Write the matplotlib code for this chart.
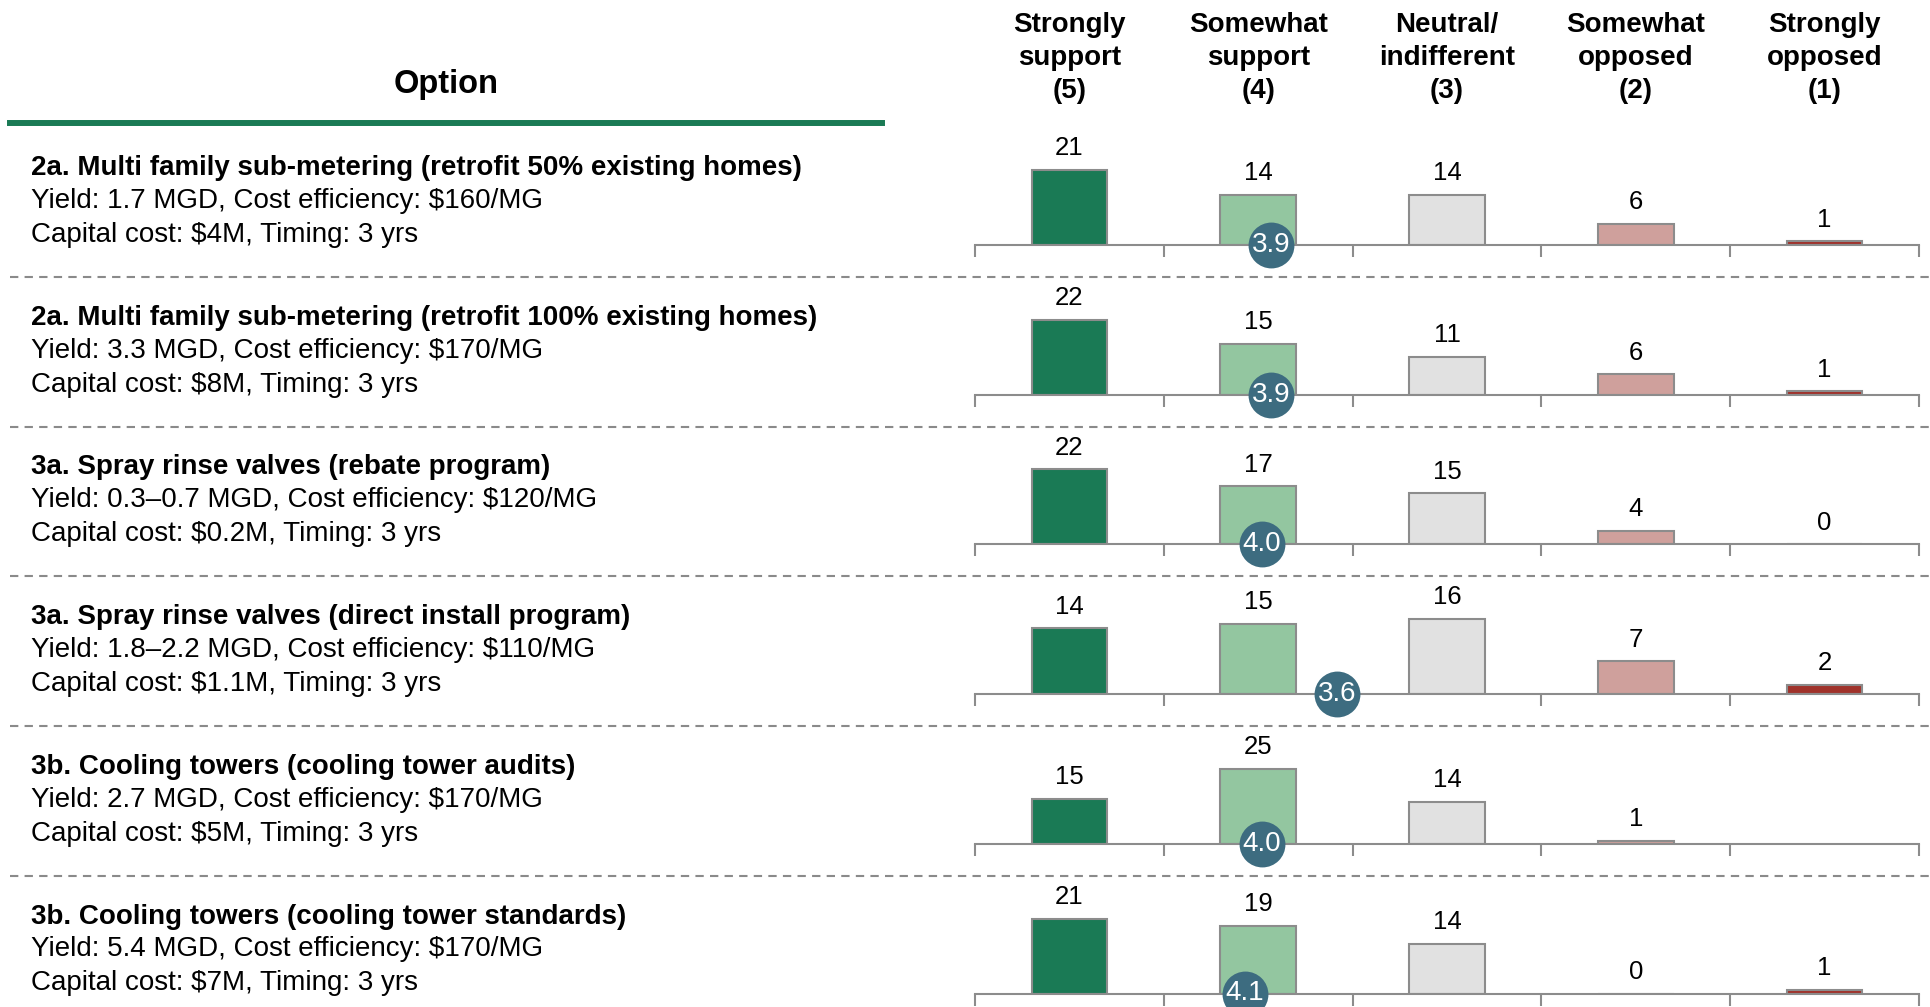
import matplotlib
matplotlib.use("Agg")
import matplotlib.pyplot as plt
from matplotlib.lines import Line2D

plt.rcParams["font.family"] = ["Liberation Sans", "DejaVu Sans"]

W, H = 1931, 1007
DARK_GREEN = "#1a7a55"
EDGE = "#8c8c8c"
DOT = "#3d6c80"

# ---- data ----
scores = [5, 4, 3, 2, 1]
headers = ["Strongly\nsupport\n(5)", "Somewhat\nsupport\n(4)", "Neutral/\nindifferent\n(3)",
           "Somewhat\nopposed\n(2)", "Strongly\nopposed\n(1)"]
bar_colors = [DARK_GREEN, "#93c6a0", "#e1e1e1", "#cfa09c", "#a0322a"]

titles = ["2a. Multi family sub-metering (retrofit 50% existing homes)",
          "2a. Multi family sub-metering (retrofit 100% existing homes)",
          "3a. Spray rinse valves (rebate program)",
          "3a. Spray rinse valves (direct install program)",
          "3b. Cooling towers (cooling tower audits)",
          "3b. Cooling towers (cooling tower standards)"]
yield_lines = ["Yield: 1.7 MGD, Cost efficiency: \\$160/MG",
               "Yield: 3.3 MGD, Cost efficiency: \\$170/MG",
               "Yield: 0.3–0.7 MGD, Cost efficiency: \\$120/MG",
               "Yield: 1.8–2.2 MGD, Cost efficiency: \\$110/MG",
               "Yield: 2.7 MGD, Cost efficiency: \\$170/MG",
               "Yield: 5.4 MGD, Cost efficiency: \\$170/MG"]
cost_lines = ["Capital cost: \\$4M, Timing: 3 yrs",
              "Capital cost: \\$8M, Timing: 3 yrs",
              "Capital cost: \\$0.2M, Timing: 3 yrs",
              "Capital cost: \\$1.1M, Timing: 3 yrs",
              "Capital cost: \\$5M, Timing: 3 yrs",
              "Capital cost: \\$7M, Timing: 3 yrs"]

strongly_support = [21, 22, 22, 14, 15, 21]
somewhat_support = [14, 15, 17, 15, 25, 19]
neutral = [14, 11, 15, 16, 14, 14]
somewhat_opposed = [6, 6, 4, 7, 1, 0]
strongly_opposed = [1, 1, 0, 2, None, 1]
mean_score = [3.93, 3.93, 3.98, 3.58, 3.98, 4.07]

counts = [strongly_support, somewhat_support, neutral, somewhat_opposed, strongly_opposed]

fig = plt.figure(figsize=(W / 100, H / 100), dpi=100)

def fx(px):
    return px / W

def fy(py):
    return 1 - py / H

# ---- header ----
AX_L, AX_R = 975, 1919
fig.text(fx(446), fy(85), "Option", ha="center", va="center", fontsize=23.5, fontweight="bold")
fig.add_artist(Line2D([fx(10), fx(882)], [fy(123), fy(123)], color=DARK_GREEN, lw=4.3))
cat_w = (AX_R - AX_L) / 5
for i, h in enumerate(headers):
    fig.text(fx(AX_L + cat_w * (i + 0.5)), fy(58), h, ha="center", va="center",
             fontsize=20, fontweight="bold", linespacing=1.33)

# ---- rows ----
ROW_STEP = 149.7
BAR_MAX_PX = 75
AX_H = 115
for r in range(len(titles)):
    base = 245 + ROW_STEP * r
    ty = 168 + ROW_STEP * r
    fig.text(fx(31), fy(ty), titles[r], ha="left", va="center", fontsize=20, fontweight="bold")
    fig.text(fx(31), fy(ty + 33), yield_lines[r], ha="left", va="center", fontsize=20)
    fig.text(fx(31), fy(ty + 67), cost_lines[r], ha="left", va="center", fontsize=20)

    if r < len(titles) - 1:
        sep = base + 32
        fig.add_artist(Line2D([fx(10), 1.0], [fy(sep), fy(sep)], color="#8a8a8a",
                              lw=1.5, linestyle=(0, (4, 3))))

    ax = fig.add_axes([fx(AX_L), fy(base), fx(AX_R) - fx(AX_L), AX_H / H])
    vals = [c[r] for c in counts]
    vmax = max(v for v in vals if v is not None)
    ax.set_ylim(0, vmax * AX_H / BAR_MAX_PX)
    ax.set_xlim(5.5, 0.5)
    for s, v, col in zip(scores, vals, bar_colors):
        if v is None:
            continue
        ax.bar(s, v, width=0.4, color=col, edgecolor=EDGE, linewidth=1.5, zorder=2)
        ax.annotate(str(v), (s, v), xytext=(0, 7), textcoords="offset points",
                    ha="center", va="bottom", fontsize=18.5)
    ax.scatter([mean_score[r]], [0], s=1090, color=DOT, zorder=5, clip_on=False, linewidths=0)
    ax.text(mean_score[r], 0, f"{mean_score[r]:.1f}", ha="center", va="center",
            color="white", fontsize=20, zorder=6, clip_on=False)

    for sp in ["top", "left", "right"]:
        ax.spines[sp].set_visible(False)
    ax.spines["bottom"].set_color(EDGE)
    ax.spines["bottom"].set_linewidth(1.5)
    ax.set_yticks([])
    ax.set_xticks([5.5, 4.5, 3.5, 2.5, 1.5, 0.5])
    ax.set_xticklabels([])
    ax.tick_params(axis="x", direction="out", length=8.5, width=1.5, color=EDGE)
    ax.patch.set_visible(False)

fig.savefig("out.png", dpi=100)
